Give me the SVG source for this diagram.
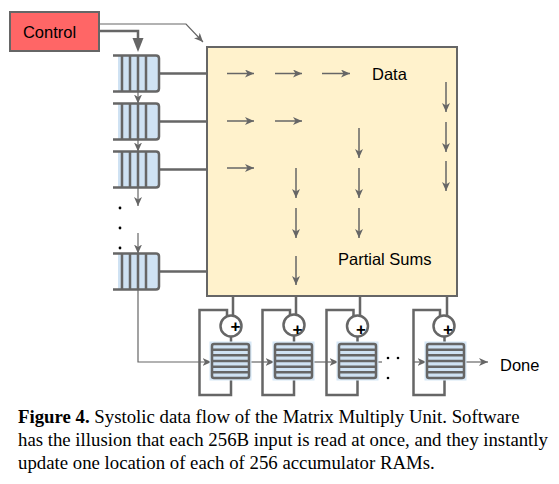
<svg xmlns="http://www.w3.org/2000/svg" width="559" height="484" viewBox="0 0 559 484">
<style>
.ln{fill:none;stroke:#666;stroke-width:2.5}
.th{fill:none;stroke:#666;stroke-width:1.5}
.tn{fill:none;stroke:#666;stroke-width:1.2}
.lbl{font-family:"Liberation Sans",Arial,sans-serif;font-size:16.5px;fill:#000}
.cap{font-family:"Liberation Serif","Times New Roman",serif;font-size:18.8px;fill:#000}
.blue{fill:#cfe2f3}
.plus{font-family:"Liberation Sans",Arial,sans-serif;font-size:17px;font-weight:bold;fill:#000}
</style>
<defs>
<marker id="ah" markerUnits="userSpaceOnUse" markerWidth="10" markerHeight="8" refX="9" refY="4" orient="auto"><path d="M0,0 L9,4 L0,8 L2.5,4 z" fill="#666"/></marker>
<g id="fifo">
<rect x="118" y="0" width="40" height="36" class="blue"/>
<path class="ln" d="M113,0 H156 Q159,0 159,3 V33 Q159,36 156,36 H113"/>
<path class="ln" d="M122,0 V36 M130,0 V36 M138,0 V36 M146,0 V36"/>
</g>
<g id="accum">
<rect x="-2.5" y="-2.5" width="42" height="39" fill="#d6e7f6"/>
<rect x="0" y="0" width="37" height="34" rx="2" class="blue" stroke="#666" stroke-width="2.5"/>
<path class="ln" d="M0,5.7 H37 M0,11.3 H37 M0,17 H37 M0,22.7 H37 M0,28.3 H37"/>
</g>
</defs>

<g id="connectors">
<path class="tn" d="M99,24 H186 L203,42" marker-end="url(#ah)"/>
<path class="ln" d="M99,31 H138 V39"/>
<polygon points="132.5,38 143.5,38 138,52" fill="#666"/>
<path class="ln" d="M159,73.5 H207 M159,121.5 H207 M159,169.5 H207 M159,271.5 H207" stroke-width="2"/>
<path class="tn" d="M138,91.5 V103.5" marker-end="url(#ah)"/>
<path class="tn" d="M138,139.5 V151.5" marker-end="url(#ah)"/>
<path class="tn" d="M138,187.5 V206" marker-end="url(#ah)"/>
<path class="tn" d="M138,233 V253.5" marker-end="url(#ah)"/>
<path class="tn" d="M138,289.5 V362 H211.5" marker-end="url(#ah)"/>
<!-- box to adders -->
<path class="ln" d="M233,296 V315.5 M296,296 V315 M360,296 V315.5 M447,296 V315.5"/>
<!-- adders to accumulators -->
<path class="ln" d="M231,336.5 V344 M294,335.5 V344 M357.5,336.5 V344 M444.5,336.5 V344"/>
<!-- feedback loops -->
<path class="ln" d="M231,378 V395 H199.5 V310 H227 V316.5"/>
<path class="ln" d="M294,378 V395 H262.5 V310 H290 V315.5"/>
<path class="ln" d="M357.5,378 V395 H326.5 V310 H353.5 V316.5"/>
<path class="ln" d="M444.5,378 V395 H413.5 V310 H440 V316.5"/>
<!-- accumulator chain -->
<path class="tn" d="M249,362 H274.5" marker-end="url(#ah)"/>
<path class="tn" d="M312,362 H338.5" marker-end="url(#ah)"/>
<path class="tn" d="M376,362 H382"/>
<path class="tn" d="M413.5,362 H426.5" marker-end="url(#ah)"/>
<path class="tn" d="M462,362 H488" marker-end="url(#ah)"/>
</g>

<g id="control">
<rect x="10" y="12" width="89" height="39" fill="#f66" stroke="#666" stroke-width="2"/>
<text class="lbl" x="49.5" y="37.5" text-anchor="middle">Control</text>
</g>

<g id="fifo1"><use href="#fifo" y="55.5"/></g>
<g id="fifo2"><use href="#fifo" y="103.5"/></g>
<g id="fifo3"><use href="#fifo" y="151.5"/></g>
<g id="fifo-dots">
<circle cx="120" cy="208" r="1.4" fill="#000"/>
<circle cx="120" cy="228" r="1.4" fill="#000"/>
<circle cx="120" cy="248" r="1.4" fill="#000"/>
</g>
<g id="fifo4"><use href="#fifo" y="253.5"/></g>

<g id="matrix-unit">
<rect x="207" y="47" width="250" height="249" fill="#fff2cc" stroke="#666" stroke-width="2"/>
<g class="th" marker-end="url(#ah)">
<path d="M227,73.5 H254" marker-end="url(#ah)"/>
<path d="M275,73.5 H302" marker-end="url(#ah)"/>
<path d="M322,73.5 H350" marker-end="url(#ah)"/>
<path d="M227,121 H254" marker-end="url(#ah)"/>
<path d="M275,121 H302" marker-end="url(#ah)"/>
<path d="M227,168 H254" marker-end="url(#ah)"/>
<path d="M296,168 V198" marker-end="url(#ah)"/>
<path d="M296,208 V238" marker-end="url(#ah)"/>
<path d="M296,256 V285" marker-end="url(#ah)"/>
<path d="M359,128 V158" marker-end="url(#ah)"/>
<path d="M359,168 V198" marker-end="url(#ah)"/>
<path d="M359,208 V238" marker-end="url(#ah)"/>
<path d="M446,82 V112" marker-end="url(#ah)"/>
<path d="M446,122 V152" marker-end="url(#ah)"/>
<path d="M446,161 V191" marker-end="url(#ah)"/>
</g>
<text class="lbl" x="372" y="80">Data</text>
<text class="lbl" x="338" y="265">Partial Sums</text>
</g>

<g id="adder1"><circle cx="231" cy="326" r="10.5" fill="#fff" stroke="#666" stroke-width="2.5"/><text class="plus" x="235.5" y="331.5" text-anchor="middle">+</text></g>
<g id="adder2"><circle cx="294" cy="325" r="10.5" fill="#fff" stroke="#666" stroke-width="2.5"/><text class="plus" x="297.5" y="335" text-anchor="middle">+</text></g>
<g id="adder3"><circle cx="357.5" cy="326" r="10.5" fill="#fff" stroke="#666" stroke-width="2.5"/><text class="plus" x="361" y="335" text-anchor="middle">+</text></g>
<g id="adder4"><circle cx="444" cy="326" r="10.5" fill="#fff" stroke="#666" stroke-width="2.5"/><text class="plus" x="448" y="335" text-anchor="middle">+</text></g>

<g id="acc1"><use href="#accum" x="212" y="344"/></g>
<g id="acc2"><use href="#accum" x="275" y="344"/></g>
<g id="acc3"><use href="#accum" x="339" y="344"/></g>
<g id="acc-dots">
<circle cx="388" cy="358" r="1.3" fill="#000"/>
<circle cx="398" cy="358" r="1.3" fill="#000"/>
<circle cx="388" cy="378" r="1.3" fill="#000"/>
</g>
<g id="acc4"><use href="#accum" x="427" y="344"/></g>

<g id="done"><text class="lbl" x="500" y="371">Done</text></g>

<g id="caption">
<text class="cap" x="18" y="423"><tspan font-weight="bold">Figure 4.</tspan> Systolic data flow of the Matrix Multiply Unit. Software</text>
<text class="cap" x="18" y="446">has the illusion that each 256B input is read at once, and they instantly</text>
<text class="cap" x="18" y="469">update one location of each of 256 accumulator RAMs.</text>
</g>
</svg>
